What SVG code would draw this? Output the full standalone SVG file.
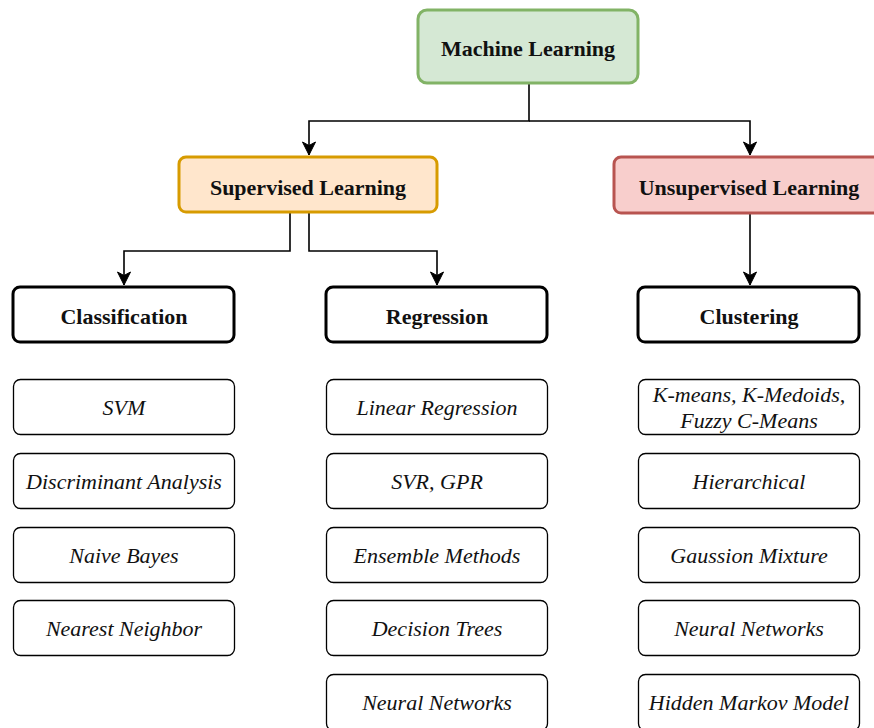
<svg xmlns="http://www.w3.org/2000/svg" width="874" height="728" viewBox="0 0 874 728">
<style>
.h{font-family:"Liberation Serif","Times New Roman",serif;font-weight:bold;font-size:22px;fill:#111;text-anchor:middle;dominant-baseline:central}
.l{font-family:"Liberation Serif","Times New Roman",serif;font-style:italic;font-size:22px;fill:#111;text-anchor:middle;dominant-baseline:central}
.cat{fill:#fff;stroke:#000;stroke-width:3}
.leaf{fill:#fff;stroke:#000;stroke-width:1.3}
.edge{fill:none;stroke:#000;stroke-width:1.6}
</style>
<defs>
<marker id="arr" markerUnits="userSpaceOnUse" markerWidth="16" markerHeight="16" viewBox="0 0 16 16" refX="14" refY="8" orient="auto">
<path d="M1,1.5 L14,8 L1,14.5 L4.5,8 Z" fill="#000" stroke="#000" stroke-width="1"/>
</marker>
</defs>
<rect width="874" height="728" fill="#fff"/>
<g id="connectors">
<path class="edge" d="M529,83 V121 H309 V155" marker-end="url(#arr)"/>
<path class="edge" d="M529,121 H750 V155" marker-end="url(#arr)"/>
<path class="edge" d="M290,212 V251 H124 V285" marker-end="url(#arr)"/>
<path class="edge" d="M309,212 V251 H437 V285" marker-end="url(#arr)"/>
<path class="edge" d="M750,213 V285" marker-end="url(#arr)"/>
</g>
<g id="machine-learning"><rect x="418" y="10" width="220" height="73" rx="9" fill="#d5e8d4" stroke="#82b366" stroke-width="3"/><text class="h" x="528" y="48">Machine Learning</text></g>
<g id="supervised"><rect x="179" y="157" width="258" height="55" rx="7" fill="#ffe6cc" stroke="#d79b00" stroke-width="3"/><text class="h" x="308" y="187">Supervised Learning</text></g>
<g id="unsupervised"><rect x="614" y="157" width="272" height="56" rx="7" fill="#f8cecc" stroke="#b85450" stroke-width="3"/><text class="h" x="749" y="187">Unsupervised Learning</text></g>
<g id="classification"><rect class="cat" x="13" y="287" width="221" height="55" rx="7"/><text class="h" x="124" y="316">Classification</text></g>
<g id="regression"><rect class="cat" x="326" y="287" width="221" height="55" rx="7"/><text class="h" x="437" y="316">Regression</text></g>
<g id="clustering"><rect class="cat" x="638" y="287" width="221" height="55" rx="7"/><text class="h" x="749" y="316">Clustering</text></g>

<g id="svm"><rect class="leaf" x="13.5" y="379.5" width="221" height="55" rx="7"/><text class="l" x="124" y="407">SVM</text></g>
<g id="discriminant"><rect class="leaf" x="13.5" y="453.5" width="221" height="55" rx="7"/><text class="l" x="124" y="481">Discriminant Analysis</text></g>
<g id="naive-bayes"><rect class="leaf" x="13.5" y="527.5" width="221" height="55" rx="7"/><text class="l" x="124" y="555">Naive Bayes</text></g>
<g id="nearest-neighbor"><rect class="leaf" x="13.5" y="600.5" width="221" height="55" rx="7"/><text class="l" x="124" y="628">Nearest Neighbor</text></g>

<g id="linear-regression"><rect class="leaf" x="326.5" y="379.5" width="221" height="55" rx="7"/><text class="l" x="437" y="407">Linear Regression</text></g>
<g id="svr-gpr"><rect class="leaf" x="326.5" y="453.5" width="221" height="55" rx="7"/><text class="l" x="437" y="481">SVR, GPR</text></g>
<g id="ensemble"><rect class="leaf" x="326.5" y="527.5" width="221" height="55" rx="7"/><text class="l" x="437" y="555">Ensemble Methods</text></g>
<g id="decision-trees"><rect class="leaf" x="326.5" y="600.5" width="221" height="55" rx="7"/><text class="l" x="437" y="628">Decision Trees</text></g>
<g id="neural-networks-reg"><rect class="leaf" x="326.5" y="674.5" width="221" height="56" rx="7"/><text class="l" x="437" y="702">Neural Networks</text></g>

<g id="kmeans"><rect class="leaf" x="638.5" y="379.5" width="221" height="55" rx="7"/><text class="l" x="749" y="394">K-means, K-Medoids,</text><text class="l" x="749" y="420">Fuzzy C-Means</text></g>
<g id="hierarchical"><rect class="leaf" x="638.5" y="453.5" width="221" height="55" rx="7"/><text class="l" x="749" y="481">Hierarchical</text></g>
<g id="gaussian"><rect class="leaf" x="638.5" y="527.5" width="221" height="55" rx="7"/><text class="l" x="749" y="555">Gaussion Mixture</text></g>
<g id="neural-networks-clu"><rect class="leaf" x="638.5" y="600.5" width="221" height="55" rx="7"/><text class="l" x="749" y="628">Neural Networks</text></g>
<g id="hmm"><rect class="leaf" x="638.5" y="674.5" width="221" height="56" rx="7"/><text class="l" x="749" y="702">Hidden Markov Model</text></g>
</svg>
